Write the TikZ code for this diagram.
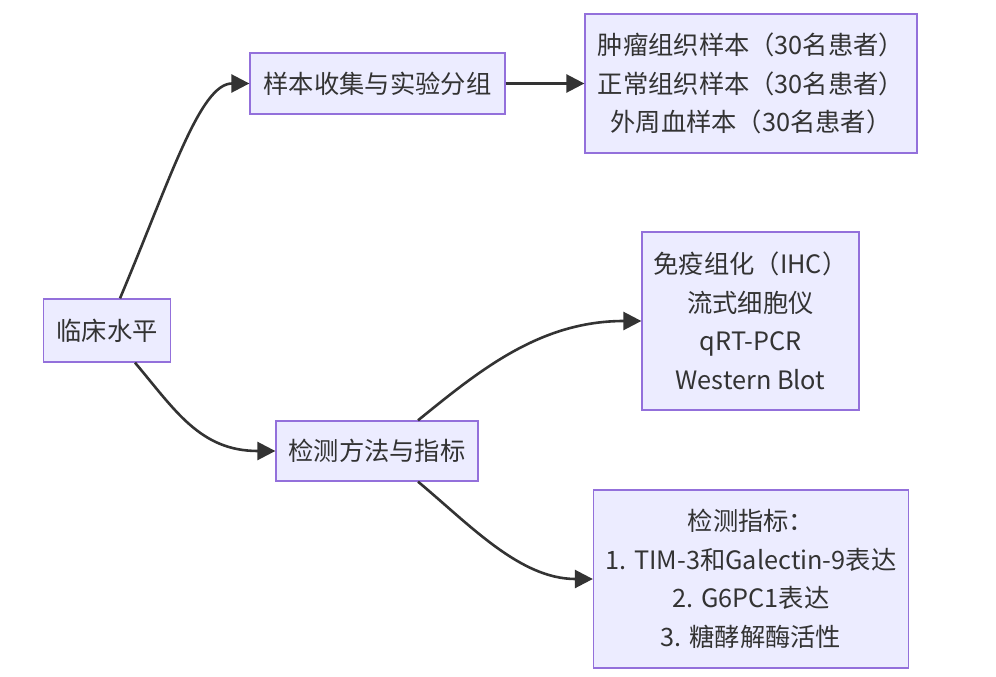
\documentclass[tikz,border=0pt]{standalone}
\usepackage{fontspec}
\setmainfont{Noto Sans CJK SC}
\usetikzlibrary{arrows.meta}
\definecolor{boxfill}{HTML}{ECECFF}
\definecolor{boxline}{HTML}{9370DB}
\definecolor{edge}{HTML}{333333}
\definecolor{txt}{HTML}{333333}
\begin{document}
\begin{tikzpicture}[x=1pt,y=-1pt,
  box/.style={draw=boxline,fill=boxfill,line width=1.3pt,align=center,inner sep=0pt,
    text=txt,font=\fontsize{25.3}{38.5}\selectfont},
  link/.style={draw=edge,line width=2.6pt,-{Triangle[length=18pt,width=18pt]}}]
\useasboundingbox (0,0) rectangle (996,677);
\node[box,minimum width=127pt,minimum height=63pt] (clin) at (107,330.5) {临床水平};
\node[box,minimum width=255pt,minimum height=61pt] (samp) at (377.5,83.5) {样本收集与实验分组};
\node[box,minimum width=332pt,minimum height=139pt] (tiss) at (751,83.5) {肿瘤组织样本（30名患者）\\正常组织样本（30名患者）\\外周血样本（30名患者）};
\node[box,minimum width=202pt,minimum height=60pt] (meth) at (377,451) {检测方法与指标};
\node[box,minimum width=217pt,minimum height=178pt] (tech) at (750.5,321) {免疫组化（IHC）\\流式细胞仪\\qRT-PCR\\Western Blot};
\node[box,minimum width=315pt,minimum height=178pt] (ind) at (751,579) {检测指标：\\1. TIM-3和Galectin-9表达\\2. G6PC1表达\\3. 糖酵解酶活性};
\path[link] ([xshift=13pt]clin.north) .. controls (170,180) and (200,83.5) .. (samp.west);
\path[link] ([xshift=28pt]clin.south) .. controls (175,410) and (200,451) .. (meth.west);
\path[link] (samp.east) -- (tiss.west);
\path[link] ([xshift=41pt]meth.north) .. controls (480,370) and (540,321) .. (tech.west);
\path[link] ([xshift=41pt]meth.south) .. controls (470,525) and (520,579) .. (ind.west);
\end{tikzpicture}
\end{document}
